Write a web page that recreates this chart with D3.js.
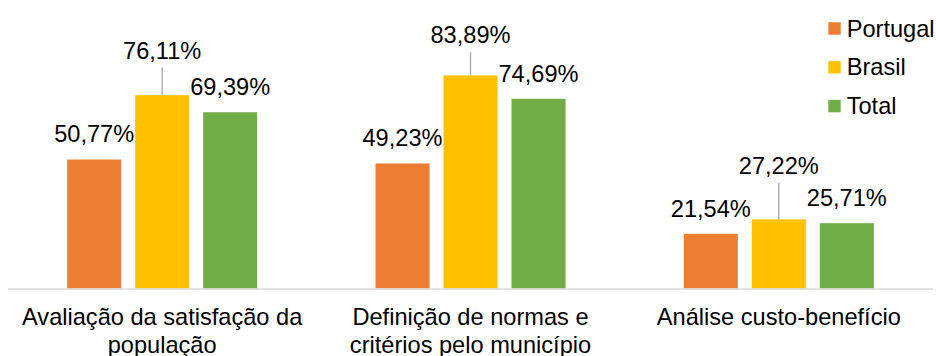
<!DOCTYPE html>
<html><head><meta charset="utf-8">
<script src="https://cdn.jsdelivr.net/npm/d3@7"></script>
<style>
html,body{margin:0;padding:0;background:#fff;}
text{font-family:"Liberation Sans",Arial,sans-serif;fill:#000;}
</style></head>
<body>
<svg id="chart" width="936" height="356"></svg>
<script>
const categories = [
  ["Avaliação da satisfação da", "população"],
  ["Definição de normas e", "critérios pelo município"],
  ["Análise custo-benefício"]
];
const seriesNames = ["Portugal", "Brasil", "Total"];
const portugal = [50.77, 49.23, 21.54];
const brasil = [76.11, 83.89, 27.22];
const total = [69.39, 74.69, 25.71];
const seriesColors = ["#ED7D31", "#FFC000", "#70AD47"];
// extra lift (px) of Brasil labels placed above bars with a leader line
const brasilLabelLift = [36.3, 32, 45];

const seriesValues = [portugal, brasil, total];
const fmt = v => v.toFixed(2).replace(".", ",") + "%";
const FS = 23.6;

const svg = d3.select("#chart");
const x0 = d3.scaleBand().domain(d3.range(categories.length)).range([8, 933]).padding(0);
const x1 = d3.scaleBand().domain(d3.range(seriesNames.length)).range([0, 190]).paddingInner(14/68).paddingOuter(0);
const y = d3.scaleLinear().domain([0, 100]).range([288.5, 34.5]);
const groupOffset = (x0.bandwidth() - 190) / 2;

const data = [];
categories.forEach((c, ci) => {
  seriesValues.forEach((vals, si) => {
    data.push({ci, si, v: vals[ci]});
  });
});

const bx = d => x0(d.ci) + groupOffset + x1(d.si);

svg.append("g").selectAll("rect").data(data).join("rect")
  .attr("x", bx)
  .attr("y", d => y(d.v))
  .attr("width", x1.bandwidth())
  .attr("height", d => y(0) - y(d.v))
  .attr("fill", d => seriesColors[d.si]);

// axis baseline
svg.append("line")
  .attr("x1", x0.range()[0]).attr("x2", x0.range()[1])
  .attr("y1", y(0) + 0.5).attr("y2", y(0) + 0.5)
  .attr("stroke", "#d9d9d9").attr("stroke-width", 1.3);

// leader lines for Brasil
svg.append("g").selectAll("line").data(data.filter(d => d.si === 1)).join("line")
  .attr("x1", d => bx(d) + x1.bandwidth() / 2)
  .attr("x2", d => bx(d) + x1.bandwidth() / 2)
  .attr("y1", d => y(d.v) - brasilLabelLift[d.ci] + 8.5)
  .attr("y2", d => y(d.v))
  .attr("stroke", "#a6a6a6").attr("stroke-width", 1.3);

// value labels
svg.append("g").selectAll("text").data(data).join("text")
  .attr("x", d => bx(d) + x1.bandwidth() / 2)
  .attr("y", d => y(d.v) - (d.si === 1 ? brasilLabelLift[d.ci] : 17.2))
  .attr("text-anchor", "middle")
  .style("font-size", FS + "px")
  .text(d => fmt(d.v));

// category labels
const catG = svg.append("g").selectAll("text").data(categories).join("text")
  .attr("x", (d, i) => x0(i) + x0.bandwidth() / 2)
  .attr("y", 324.5)
  .attr("text-anchor", "middle")
  .style("font-size", FS + "px");
catG.selectAll("tspan").data(d => d).join("tspan")
  .attr("x", function() { return this.parentNode.getAttribute("x"); })
  .attr("dy", (d, i) => i === 0 ? 0 : 28.6)
  .text(d => d);

// legend
const leg = svg.append("g").selectAll("g").data(seriesNames).join("g")
  .attr("transform", (d, i) => `translate(828.3, ${22.3 + i * 38.8})`);
leg.append("rect").attr("width", 12.4).attr("height", 12.4)
  .attr("fill", (d, i) => seriesColors[i]);
leg.append("text").attr("x", 18.4).attr("y", 14.3)
  .style("font-size", FS + "px").text(d => d);
</script>
</body></html>
